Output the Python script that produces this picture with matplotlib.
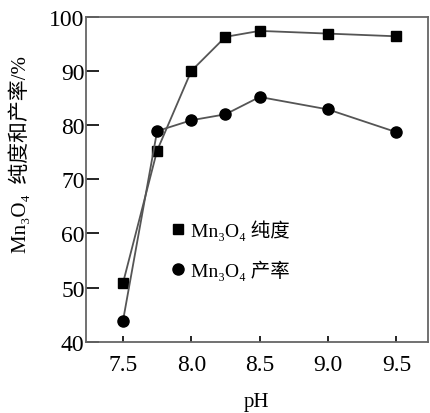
import matplotlib.pyplot as plt

ph = [7.5, 7.75, 8.0, 8.25, 8.5, 9.0, 9.5]
purity = [50.8, 75.3, 90.0, 96.3, 97.4, 96.9, 96.4]
yield_ = [43.8, 78.9, 80.9, 82.0, 85.2, 82.9, 78.7]
xticks = [7.5, 8.0, 8.5, 9.0, 9.5]
xticklabels = ['7.5', '8.0', '8.5', '9.0', '9.5']
yticks = [40, 50, 60, 70, 80, 90, 100]

fams = ['Liberation Serif', 'DejaVu Serif', 'Noto Sans CJK SC']
plt.rcParams['font.family'] = fams

fig = plt.figure(figsize=(4.3, 4.14), dpi=100)
ax = fig.add_axes([0.2, 0.172, 0.795, 0.785])

ax.plot(ph, purity, color='#555555', lw=1.3, marker='s', ms=7,
        mfc='black', mec='black', label='Mn₃O₄ 纯度')
ax.plot(ph, yield_, color='#555555', lw=1.3, marker='o', ms=8,
        mfc='black', mec='black', label='Mn₃O₄ 产率')

ax.set_xlim(7.23, 9.73)
ax.set_ylim(40, 100)
ax.set_xticks(xticks)
ax.set_xticklabels(xticklabels)
ax.set_yticks(yticks)
ax.tick_params(axis='y', direction='in', length=9, width=1.2, labelsize=17, pad=1)
ax.tick_params(axis='x', direction='in', length=4, width=1.2, labelsize=17, pad=9)
for s in ax.spines.values():
    s.set_color('#666666')
    s.set_linewidth(1.3)

ax.set_xlabel('pH', fontsize=15, labelpad=12)
ax.set_ylabel('Mn₃O₄  纯度和产率/%', fontsize=15)
ax.yaxis.set_label_coords(-0.16, 0.58)

ax.legend(loc='upper left', bbox_to_anchor=(0.2, 0.43), frameon=False,
          fontsize=14, handlelength=0.6, handletextpad=0.4, labelspacing=1.0,
          numpoints=1)
leg = ax.get_legend()
for h in leg.legend_handles:
    h.set_linestyle('none')

fig.savefig('out.png', dpi=100)
